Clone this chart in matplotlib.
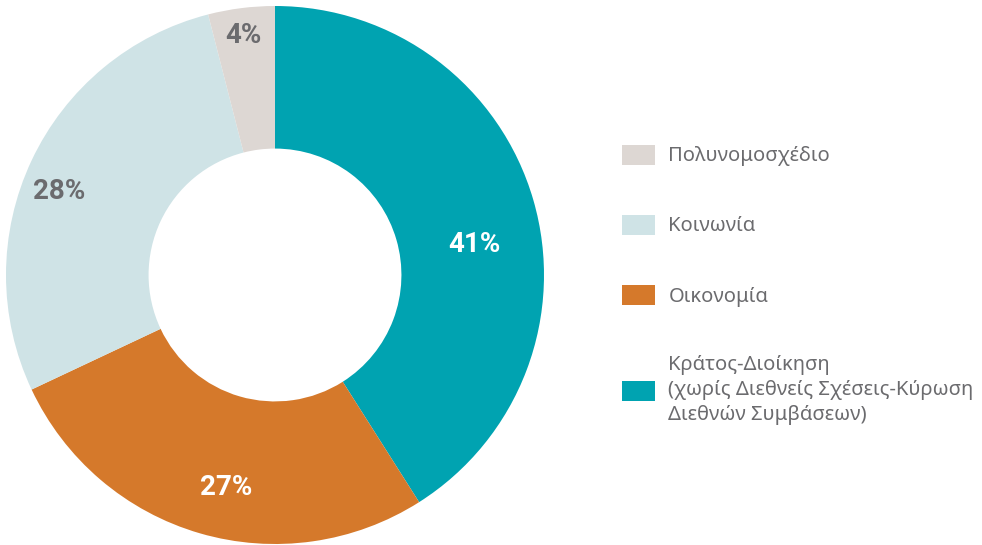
import numpy as np
import matplotlib.pyplot as plt
from matplotlib.patches import Patch

# data (clockwise from 12 o'clock)
labels = [
    'Κράτος-Διοίκηση\n(χωρίς Διεθνείς Σχέσεις-Κύρωση\nΔιεθνών Συμβάσεων)',
    'Οικονομία',
    'Κοινωνία',
    'Πολυνομοσχέδιο',
]
values = [41, 27, 28, 4]
colors = ['#00A3B1', '#D5792B', '#CFE3E6', '#DDD7D3']
text_colors = ['white', 'white', '#6B6B6E', '#6B6B6E']

# label placement tweaks (radius, angle shift in degrees)
label_r = [0.75, 0.81, 0.86, 0.90]
label_shift = [-7.6, 3.2, 4.1, 0.4]

plt.rcParams['font.family'] = ['Noto Sans', 'DejaVu Sans']

W, H = 982, 545
fig = plt.figure(figsize=(W / 100, H / 100), dpi=100)

cx, cy, r = 275, 275, 269
ax = fig.add_axes([(cx - r) / W, (H - cy - r) / H, 2 * r / W, 2 * r / H])

wedges, _ = ax.pie(
    values,
    colors=colors,
    startangle=90,
    counterclock=False,
    radius=1,
    wedgeprops=dict(width=0.53, edgecolor='none'),
)
ax.set_xlim(-1, 1)
ax.set_ylim(-1, 1)
ax.set_aspect('equal')
ax.axis('off')

for w, v, tc, lr, sh in zip(wedges, values, text_colors, label_r, label_shift):
    ang = np.deg2rad((w.theta1 + w.theta2) / 2 + sh)
    ax.text(lr * np.cos(ang), lr * np.sin(ang), f'{v}%',
            ha='center', va='center', fontsize=20, fontweight='bold',
            color=tc, family=['Roboto', 'DejaVu Sans'])

handles = [Patch(facecolor=c, edgecolor='none') for c in colors]
leg = fig.legend(
    handles[::-1], labels[::-1],
    loc='center left',
    bbox_to_anchor=(604 / W, 1 - 285 / H),
    frameon=False,
    fontsize=14.5,
    labelcolor='#6B6B6E',
    handlelength=1.65,
    handleheight=1.15,
    handletextpad=0.65,
    labelspacing=2.4,
)
for t in leg.get_texts():
    t.set_linespacing(1.35)

fig.savefig('out.png', dpi=100)
